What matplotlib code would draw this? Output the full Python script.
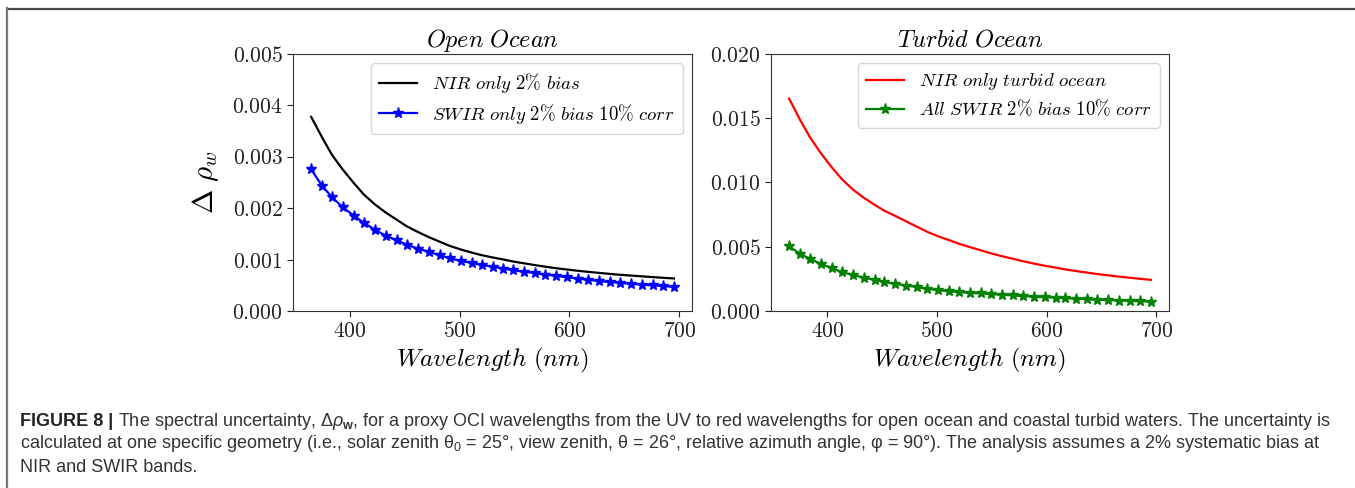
import matplotlib
matplotlib.use("Agg")
import matplotlib.pyplot as plt
from matplotlib.ticker import FormatStrFormatter
from matplotlib.lines import Line2D

# ----------------------------
# Data
# ----------------------------

wavelength = [365, 375, 384, 394, 404, 413, 423, 433, 443, 452, 462, 472, 482, 491, 501,
              511, 520, 530, 540, 549, 559, 569, 578, 588, 598, 608, 617, 627, 637, 646,
              656, 666, 676, 685, 695]

# Open ocean (x 1e-3)
nir_open = [3.77, 3.37, 3.03, 2.74, 2.48, 2.26, 2.07, 1.91, 1.77, 1.645, 1.535, 1.435, 1.345, 1.265, 1.195,
            1.135, 1.085, 1.04, 1.0, 0.96, 0.925, 0.89, 0.86, 0.83, 0.805, 0.78, 0.76, 0.74, 0.72, 0.703,
            0.688, 0.673, 0.658, 0.645, 0.632]
swir_open = [2.75, 2.43, 2.21, 2.01, 1.85, 1.71, 1.58, 1.46, 1.37, 1.29, 1.21, 1.15, 1.08, 1.025, 0.973,
             0.934, 0.895, 0.86, 0.825, 0.792, 0.76, 0.736, 0.708, 0.681, 0.656, 0.628, 0.605, 0.582, 0.561, 0.545,
             0.527, 0.513, 0.496, 0.485, 0.468]

# Turbid ocean (x 1e-3)
nir_turbid = [16.5, 14.85, 13.5, 12.25, 11.15, 10.25, 9.45, 8.8, 8.25, 7.78, 7.38, 6.95, 6.53, 6.15, 5.8,
              5.5, 5.22, 4.96, 4.71, 4.48, 4.26, 4.06, 3.87, 3.69, 3.52, 3.37, 3.23, 3.1, 2.98, 2.87,
              2.77, 2.67, 2.58, 2.5, 2.42]
swir_turbid = [5.02, 4.45, 4.06, 3.65, 3.34, 3.02, 2.81, 2.58, 2.42, 2.24, 2.11, 1.98, 1.85, 1.72, 1.62,
               1.53, 1.47, 1.41, 1.36, 1.31, 1.26, 1.21, 1.16, 1.11, 1.07, 1.04, 0.99, 0.95, 0.91, 0.87,
               0.84, 0.81, 0.785, 0.76, 0.73]

panel_titles = [r"$Open\ Ocean$", r"$Turbid\ Ocean$"]
x_ticks = [400, 500, 600, 700]

caption_head = "FIGURE 8 |"
caption_lines = [
    r" The spectral uncertainty, $\Delta\rho_{\mathbf{w}}$, for a proxy OCI wavelengths from the UV to red "
    r"wavelengths for open ocean and coastal turbid waters. The uncertainty is",
    r"calculated at one specific geometry (i.e., solar zenith θ$_0$ = 25°, view zenith, θ = 26°, "
    r"relative azimuth angle, φ = 90°). The analysis assumes a 2% systematic bias at",
    r"NIR and SWIR bands.",
]

# ----------------------------
# Style
# ----------------------------

plt.rcParams["mathtext.fontset"] = "cm"
plt.rcParams["mathtext.rm"] = "Liberation Sans"
plt.rcParams["mathtext.it"] = "Liberation Sans:italic"
plt.rcParams["mathtext.bf"] = "Liberation Sans:bold"

W, H = 1355, 488
fig = plt.figure(figsize=(W / 100, H / 100), dpi=100)
fig.patch.set_facecolor("white")

ax_left = fig.add_axes([293 / W, 1 - 311 / H, 399 / W, 257.5 / H])
ax_right = fig.add_axes([771 / W, 1 - 311 / H, 398 / W, 257.5 / H])

scale = 1e-3


def style_axis(ax, ymax, ystep, title):
    ax.set_ylim(0, ymax)
    ax.set_yticks([i * ystep for i in range(int(round(ymax / ystep)) + 1)])
    ax.set_xticks(x_ticks)
    ax.xaxis.set_major_formatter(FormatStrFormatter(r"$%d$"))
    ax.yaxis.set_major_formatter(FormatStrFormatter(r"$%.3f$"))
    ax.tick_params(labelsize=15.5, colors="#222222", length=4)
    for s in ax.spines.values():
        s.set_color("#333333")
    ax.set_title(title, fontsize=17.5, pad=5)
    ax.set_xlabel(r"$Wavelength\ (nm)$", fontsize=18, labelpad=3)


# Left panel: open ocean
ax_left.plot(wavelength, [v * scale for v in nir_open], color="black", lw=1.6,
             label=r"$NIR\ only\ 2\%\ bias$")
ax_left.plot(wavelength, [v * scale for v in swir_open], color="blue", lw=1.6,
             marker="*", markersize=8, label=r"$SWIR\ only\ 2\%\ bias\ 10\%\ corr$")
style_axis(ax_left, 0.005, 0.001, panel_titles[0])
ax_left.set_ylabel(r"$\Delta\ \rho_w$", fontsize=21, labelpad=8)

# Right panel: turbid ocean
ax_right.plot(wavelength, [v * scale for v in nir_turbid], color="red", lw=1.6,
              label=r"$NIR\ only\ turbid\ ocean$")
ax_right.plot(wavelength, [v * scale for v in swir_turbid], color="green", lw=1.6,
              marker="*", markersize=8, label=r"$All\ SWIR\ 2\%\ bias\ 10\%\ corr$")
style_axis(ax_right, 0.020, 0.005, panel_titles[1])

for ax in (ax_left, ax_right):
    ax.legend(loc="upper right", fontsize=13.5, handlelength=2.0, borderpad=0.45,
              labelspacing=0.35, borderaxespad=0.5, framealpha=0.8)
    ax.set_xlim(348.5, 711.5)

# ----------------------------
# Frame lines + caption
# ----------------------------

fig.add_artist(Line2D([7 / W, 1.0], [1 - 8.5 / H, 1 - 8.5 / H], color="#4a4a4a", lw=1.6))
fig.add_artist(Line2D([7.5 / W, 7.5 / W], [0.0, 1 - 8 / H], color="#777777", lw=1.6))

cap_size = 13.0
cap_color = "#333333"
renderer = fig.canvas.get_renderer()
x0 = 20 / W
y_lines = [421, 444, 467]

head = fig.text(x0, 1 - y_lines[0] / H, caption_head, fontsize=cap_size, fontweight="bold",
                family="Liberation Sans", color="#222222", va="center", ha="left")
bb = head.get_window_extent(renderer)
fig.text(bb.x1 / W, 1 - y_lines[0] / H, caption_lines[0], fontsize=cap_size,
         family="Liberation Sans", color=cap_color, va="center", ha="left",
         math_fontfamily="custom")
for line, y in zip(caption_lines[1:], y_lines[1:]):
    fig.text(x0, 1 - y / H, line, fontsize=cap_size, family="Liberation Sans",
             color=cap_color, va="center", ha="left", math_fontfamily="custom")

fig.savefig("out.png", dpi=100, facecolor="white")
plt.close(fig)
